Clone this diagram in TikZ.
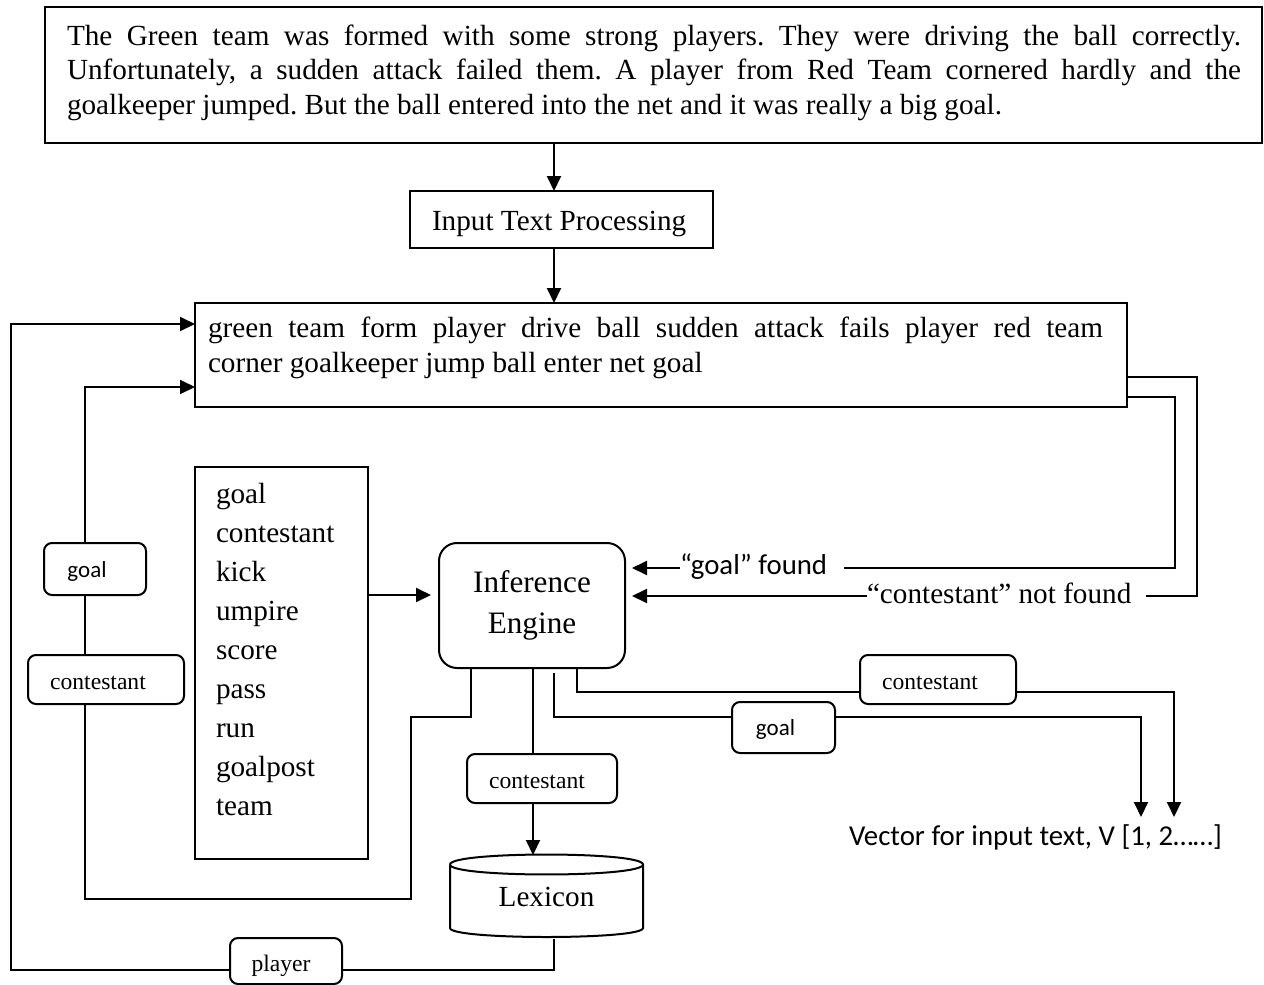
\documentclass[tikz,border=0pt]{standalone}
\usepackage{fontspec}
\setmainfont{Liberation Serif}
\newfontfamily\calfont{Carlito}
\usetikzlibrary{arrows.meta}
\frenchspacing

\begin{document}
\begin{tikzpicture}[x=0.5pt,y=-0.5pt, line width=1pt,
  font=\fontsize{14.6}{17}\selectfont,
  arr/.style={-{Triangle[length=7.5pt,width=7pt]}},
  plainbox/.style={draw, inner sep=0pt, outer sep=0pt, anchor=north west},
  tag/.style={draw, rounded corners=4pt, fill=white, inner sep=0pt, outer sep=0pt,
    text height=10pt, text depth=0pt, font=\fontsize{11.8}{14}\selectfont},
  caltag/.style={tag, text height=8pt, font=\calfont\fontsize{11.5}{14}\selectfont},
  txt/.style={inner sep=0pt, outer sep=0pt, anchor=base west},
  caltxt/.style={txt, font=\calfont\fontsize{14.4}{17}\selectfont},
]
\useasboundingbox (0,0) rectangle (1264,985);

% ---- top text box
\node[plainbox, minimum width=608.5pt, minimum height=68pt] (top) at (45,7) {};
\node[txt] (t1) at (67,45) {\makebox[587pt][s]{The Green team was formed with some strong players. They were driving the ball correctly.}};
\node[txt] (t2) at (67,79.5) {\makebox[587pt][s]{Unfortunately, a sudden attack failed them. A player from Red Team cornered hardly and the}};
\node[txt] (t3) at (67,114) {goalkeeper jumped. But the ball entered into the net and it was really a big goal.};

% ---- input text processing
\node[plainbox, minimum width=151.5pt, minimum height=28.5pt] (itp) at (410,191) {};
\node[txt] (itpt) at (432,230) {Input Text Processing};

% ---- keyword box
\node[plainbox, minimum width=466pt, minimum height=52pt] (kw) at (195,303) {};
\node[txt] (k1) at (208,337) {\makebox[447.5pt][s]{green team form player drive ball sudden attack fails player red team}};
\node[txt] (k2) at (208,372) {corner goalkeeper jump ball enter net goal};

% ---- word list
\node[plainbox, minimum width=86.5pt, minimum height=196pt] (words) at (195,467) {};
\foreach \w [count=\i from 0] in {goal,contestant,kick,umpire,score,pass,run,goalpost,team}
  \node[txt] (w\i) at (216,{503+39*\i}) {\w};

% ---- inference engine
\node[draw, rounded corners=9pt, minimum width=93pt, minimum height=62.5pt, anchor=north west,
  inner sep=0pt, outer sep=0pt, align=center, font=\fontsize{15.6}{20.5}\selectfont] (ie) at (439,543) {Inference\\Engine};

% ---- lexicon cylinder
\draw (450,864.5) -- (450,928) .. controls (450,940) and (643,940) .. (643,928) -- (643,864.5);
\draw (450,864.5) .. controls (450,851.2) and (643,851.2) .. (643,864.5)
      .. controls (643,877.8) and (450,877.8) .. (450,864.5);
\node[inner sep=0pt, outer sep=0pt, minimum width=96.5pt, minimum height=42pt] (lex) at (546.5,897) {Lexicon};

% ---- tags
\node[caltag, minimum width=51pt, minimum height=26pt] (lg) at (95,569) {goal\kern8pt};
\node[tag, minimum width=78pt, minimum height=24.5pt] (lc) at (106,679.5) {contestant\kern8pt};
\node[tag, minimum width=78pt, minimum height=24.5pt] (rc) at (938,679.5) {contestant\kern8pt};
\node[caltag, minimum width=51.5pt, minimum height=25.5pt] (rg) at (783.5,727.5) {goal\kern8pt};
\node[tag, minimum width=75pt, minimum height=24.5pt] (bc) at (542,778.5) {contestant\kern5pt};
\node[tag, minimum width=56pt, minimum height=23pt] (pl) at (286,961) {player\kern5pt};

% ---- free texts
\node[caltxt] (gf) at (680,574.5) {“goal” found};
\node[txt] (cnf) at (867,603) {“contestant” not found};
\node[caltxt] (vec) at (849,845) {Vector for input text, V [1, 2……]};

% ---- coordinates
\coordinate (xa) at (554,0);
\coordinate (lo) at (11,324);
\coordinate (pb) at (0,970);
\coordinate (xA) at (471,0);
\coordinate (a1) at (411,717);
\coordinate (a2) at (85,899);
\coordinate (li) at (85,387);
\coordinate (xB) at (533,0);
\coordinate (c1) at (554,673);
\coordinate (yc) at (0,717);
\coordinate (v1) at (1141,817);
\coordinate (xD) at (577,0);
\coordinate (yd) at (0,692);
\coordinate (v2) at (1174,817);
\coordinate (o1) at (1197,596);
\coordinate (yo) at (0,377);
\coordinate (i1) at (1175,568);
\coordinate (yi) at (0,397);
\coordinate (yw) at (0,595);
\coordinate (cnfe) at ([xshift=7.5pt]cnf.east);
\coordinate (gfe) at ([xshift=8.5pt]gf.east);

% ---- connectors
\draw[arr] (top.south -| xa) -- (itp.north -| xa);
\draw[arr] (itp.south -| xa) -- (kw.north -| xa);

\draw (lex.south -| xa) |- (pl.east |- pb);
\draw[arr] (pl.west |- pb) -| (lo) -- (kw.west |- lo);

\draw (ie.south -| xA) |- (a1) |- (a2) -- (lc.south -| a2);
\draw (lc.north -| a2) -- (lg.south -| a2);
\draw[arr] (lg.north -| a2) |- (kw.west |- li);

\draw (ie.south -| xB) -- (bc.north -| xB);
\draw[arr] (bc.south -| xB) -- (lex.north -| xB);

\draw (c1) |- (rg.west |- yc);
\draw[arr] (rg.east |- yc) -| (v1);

\draw (ie.south -| xD) |- (rc.west |- yd);
\draw[arr] (rc.east |- yd) -| (v2);

\draw (kw.east |- yo) -| (o1) -- (cnfe |- o1);
\draw[arr, shorten >=3.5pt] (cnf.west |- o1) -- (ie.east |- o1);

\draw (kw.east |- yi) -| (i1) -- (gfe |- i1);
\draw[arr, shorten >=3.5pt] (gf.west |- i1) -- (ie.east |- i1);

\draw[arr, shorten >=4pt] (words.east |- yw) -- (ie.west |- yw);
\end{tikzpicture}
\end{document}
